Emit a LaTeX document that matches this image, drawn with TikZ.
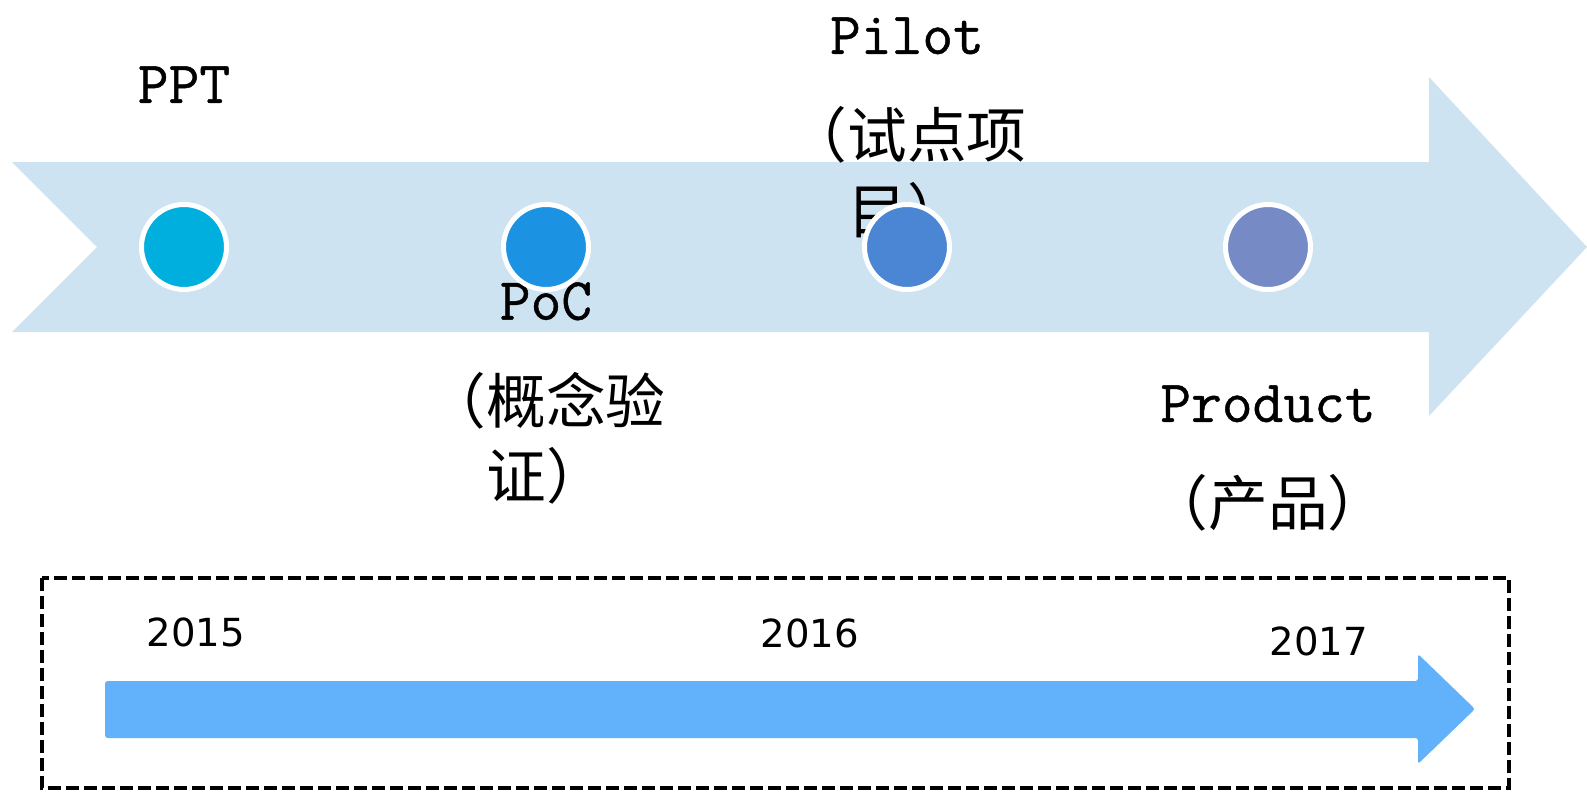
\documentclass[tikz,border=0pt]{standalone}
\usepackage{fontspec}
\newfontfamily\cjkfont{Noto Sans CJK SC}
\newfontfamily\latinfont[FakeBold=0.8]{Latin Modern Mono}
\newfontfamily\yearfont{DejaVu Sans}
\usetikzlibrary{
    positioning % For placing nodes relative to each other
}

\definecolor{bandblue}{RGB}{205,227,242}
\definecolor{dotone}{RGB}{0,175,222}
\definecolor{dottwo}{RGB}{27,146,226}
\definecolor{dotthree}{RGB}{74,134,212}
\definecolor{dotfour}{RGB}{118,139,198}
\definecolor{yearblue}{RGB}{97,178,251}

\begin{document}
\begin{tikzpicture}[
    % One unit is one pixel of the reference, y runs downwards
    x=0.02cm, y=-0.02cm,
    % Style for the wide pale arrow
    band_style/.style={
        fill=bandblue
    },
    % Style for the milestone dots (white ring round them)
    dot_style/.style={
        circle, draw=white, line width=0.1cm,
        minimum size=1.7cm, inner sep=0pt
    },
    % Style for the milestone texts
    label_style/.style={
        font=\cjkfont\fontsize{34}{43}\selectfont,
        align=center, inner sep=0pt, anchor=north
    },
    % Style for the year texts
    year_style/.style={
        font=\yearfont\fontsize{22}{26}\selectfont
    },
    % Style for the dashed frame
    frame_style/.style={
        draw=black, line width=2.3pt,
        dash pattern=on 0.26cm off 0.1cm
    }
]
    \useasboundingbox (0,0) rectangle (1587,792);

    % 1. The wide arrow with a notched tail.
    \fill[band_style] (12,162) -- (1429,162) -- (1429,77) -- (1587,247)
        -- (1429,416) -- (1429,332) -- (12,332) -- (97,247) -- cycle;

    % 2. The milestone texts, centred over the dots.
    \node[label_style] (label_ppt) at (184,66) {{\latinfont PPT}};
    \node[label_style] (label_poc) at (546,282) {{\latinfont PoC}\\[16pt]（概念验\\证）};
    \node[label_style] (label_pilot) at (907,17) {{\latinfont Pilot}\\[16pt]（试点项\\目）};
    \node[label_style] (label_product) at (1268,385) {{\latinfont Product}\\[16pt]（产品）};

    % 3. The dots, drawn over the texts.
    \node[dot_style, fill=dotone] (dot_ppt) at (184,247) {};
    \node[dot_style, fill=dottwo] (dot_poc) at (546,247) {};
    \node[dot_style, fill=dotthree] (dot_pilot) at (907,247) {};
    \node[dot_style, fill=dotfour] (dot_product) at (1268,247) {};

    % 4. The dashed frame with the years and the time arrow.
    \draw[frame_style] (42,578) rectangle (1509,788);
    \node[year_style] (year_2015) at (196,632) {2015};
    \node[year_style] (year_2016) at (810,633) {2016};
    \node[year_style] (year_2017) at (1319,641) {2017};
    \fill[yearblue, rounded corners=1.5pt] (105,681) -- (1418,681) -- (1418,654)
        -- (1475,709) -- (1418,764) -- (1418,738) -- (105,738) -- cycle;

\end{tikzpicture}
\end{document}
